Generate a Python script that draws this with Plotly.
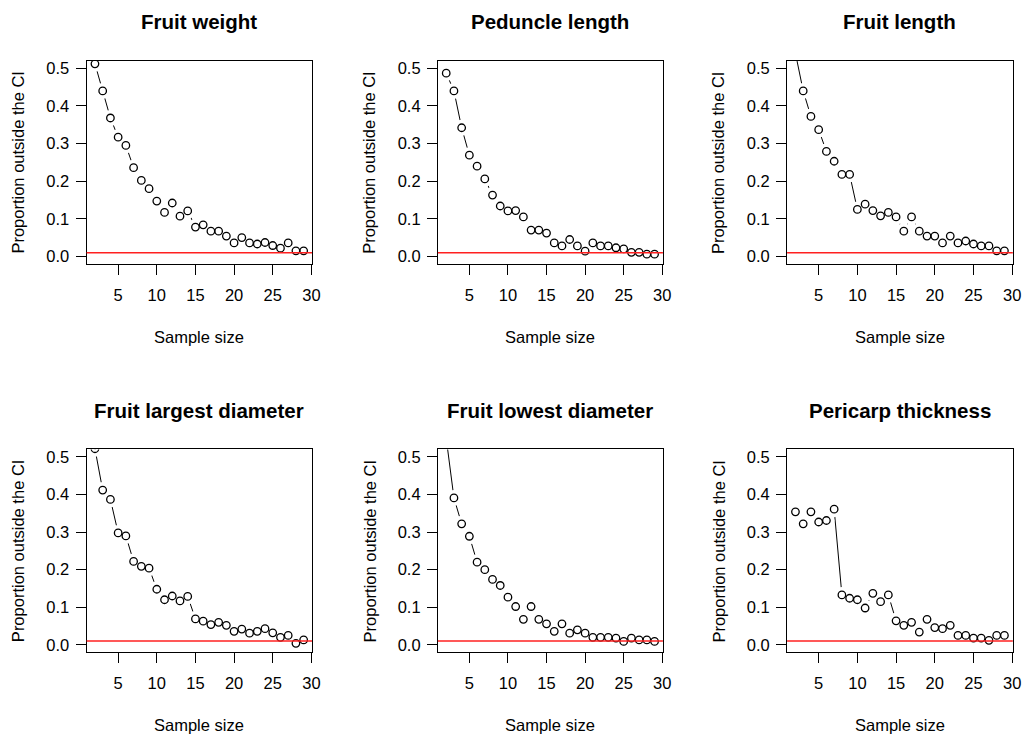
import plotly.graph_objects as go

# ---------------- data ----------------
sample_size = list(range(2, 30))

panel_titles = [
    "Fruit weight", "Peduncle length", "Fruit length",
    "Fruit largest diameter", "Fruit lowest diameter", "Pericarp thickness",
]

fruit_weight = [0.512, 0.440, 0.368, 0.317, 0.295, 0.236, 0.202, 0.180, 0.147, 0.117,
                0.142, 0.107, 0.121, 0.078, 0.084, 0.067, 0.067, 0.054, 0.036, 0.050,
                0.036, 0.033, 0.037, 0.029, 0.022, 0.036, 0.015, 0.015]
peduncle_length = [0.487, 0.440, 0.342, 0.269, 0.240, 0.206, 0.163, 0.134, 0.121, 0.122,
                   0.105, 0.070, 0.070, 0.062, 0.036, 0.028, 0.045, 0.028, 0.014, 0.036,
                   0.028, 0.028, 0.023, 0.020, 0.011, 0.011, 0.006, 0.006]
fruit_length = [0.540, 0.440, 0.372, 0.337, 0.279, 0.253, 0.218, 0.218, 0.125, 0.139,
                0.122, 0.108, 0.117, 0.105, 0.067, 0.105, 0.067, 0.054, 0.054, 0.036,
                0.054, 0.036, 0.041, 0.033, 0.028, 0.028, 0.015, 0.015]
fruit_largest_diameter = [0.522, 0.412, 0.387, 0.298, 0.290, 0.222, 0.209, 0.204, 0.148, 0.120,
                          0.130, 0.117, 0.129, 0.069, 0.063, 0.054, 0.060, 0.052, 0.036, 0.042,
                          0.031, 0.036, 0.043, 0.032, 0.020, 0.025, 0.004, 0.013]
fruit_lowest_diameter = [0.550, 0.391, 0.322, 0.289, 0.220, 0.200, 0.174, 0.158, 0.127, 0.102,
                         0.068, 0.102, 0.068, 0.056, 0.036, 0.056, 0.031, 0.040, 0.031, 0.020,
                         0.020, 0.020, 0.018, 0.009, 0.018, 0.013, 0.013, 0.009]
pericarp_thickness = [0.354, 0.322, 0.354, 0.327, 0.331, 0.361, 0.133, 0.124, 0.120, 0.098,
                      0.137, 0.115, 0.133, 0.064, 0.052, 0.060, 0.034, 0.068, 0.046, 0.043,
                      0.052, 0.025, 0.025, 0.018, 0.018, 0.012, 0.025, 0.025]

reference_level = 0.01
x_ticks = [5, 10, 15, 20, 25, 30]
y_ticks = [0.0, 0.1, 0.2, 0.3, 0.4, 0.5]

series = [fruit_weight, peduncle_length, fruit_length,
          fruit_largest_diameter, fruit_lowest_diameter, pericarp_thickness]

# ---------------- layout geometry (pixels, page coordinates) ----------------
OFF = 8                      # default page body margin around the plot div
W, H = 1032 - OFF, 738 - OFF
col_boxes = [(87.3, 314.7), (441.7, 668.7), (794.0, 1021.7)]
row_boxes = [(59.0, 263.0), (449.3, 653.0)]


def px_x(v):
    return (v - OFF) / W


def px_y(v):
    return 1 - (v - OFF) / H


FONT = "Liberation Sans, Arial, sans-serif"
TICK_SIZE = 16.5

fig = go.Figure()
annotations = []
shapes = []

for i, (title, vals) in enumerate(zip(panel_titles, series)):
    r, c = divmod(i, 3)
    k = i + 1
    xs = "" if k == 1 else str(k)
    x0, x1 = col_boxes[c]
    top, bot = row_boxes[r]

    # connecting line
    fig.add_trace(go.Scatter(x=sample_size, y=vals, mode="lines",
                             line=dict(color="black", width=1),
                             xaxis="x" + xs, yaxis="y" + xs, showlegend=False,
                             hoverinfo="skip"))
    # white mask to imitate R type="b" gaps
    fig.add_trace(go.Scatter(x=sample_size, y=vals, mode="markers",
                             marker=dict(symbol="circle", size=16, color="white",
                                         line=dict(width=0)),
                             xaxis="x" + xs, yaxis="y" + xs, showlegend=False,
                             hoverinfo="skip"))
    # open circles
    fig.add_trace(go.Scatter(x=sample_size, y=vals, mode="markers",
                             marker=dict(symbol="circle-open", size=7.5, color="black",
                                         line=dict(width=1.3, color="black")),
                             xaxis="x" + xs, yaxis="y" + xs, showlegend=False))

    axis_common = dict(showline=True, mirror=True, linecolor="black", linewidth=1,
                       showgrid=False, zeroline=False, ticks="outside", ticklen=10,
                       tickwidth=1, tickcolor="black",
                       tickfont=dict(family=FONT, size=TICK_SIZE, color="black"))
    fig.update_layout(**{
        "xaxis" + xs: dict(axis_common, domain=[px_x(x0), px_x(x1)], range=[0.92, 30.08],
                           tickmode="array", tickvals=x_ticks, anchor="y" + xs,
                           ticklabelstandoff=6),
        "yaxis" + xs: dict(axis_common, domain=[px_y(bot), px_y(top)],
                           range=[-0.02, 0.52], tickmode="array", tickvals=y_ticks,
                           tickformat=".1f", anchor="x" + xs, ticklabelstandoff=3),
    })

    shapes.append(dict(type="line", xref="x" + xs + " domain", yref="y" + xs,
                       x0=0, x1=1, y0=reference_level, y1=reference_level,
                       line=dict(color="#ff2020", width=1.5), layer="above"))

    cx = px_x((x0 + x1) / 2)
    annotations.append(dict(text="<b>" + title + "</b>", x=cx, y=px_y(top - 39),
                            xref="paper", yref="paper", showarrow=False,
                            xanchor="center", yanchor="middle",
                            font=dict(family=FONT, size=20.5, color="black")))
    annotations.append(dict(text="Sample size", x=cx, y=px_y(bot + 73),
                            xref="paper", yref="paper", showarrow=False,
                            xanchor="center", yanchor="middle",
                            font=dict(family=FONT, size=TICK_SIZE, color="black")))
    annotations.append(dict(text="Proportion outside the CI", x=px_x(x0 - 69),
                            y=px_y((top + bot) / 2), textangle=-90,
                            xref="paper", yref="paper", showarrow=False,
                            xanchor="center", yanchor="middle",
                            font=dict(family=FONT, size=TICK_SIZE, color="black")))

fig.update_layout(width=W, height=H, margin=dict(l=0, r=0, t=0, b=0),
                  paper_bgcolor="white", plot_bgcolor="white",
                  annotations=annotations, shapes=shapes, showlegend=False)

fig.write_html("out.html")
